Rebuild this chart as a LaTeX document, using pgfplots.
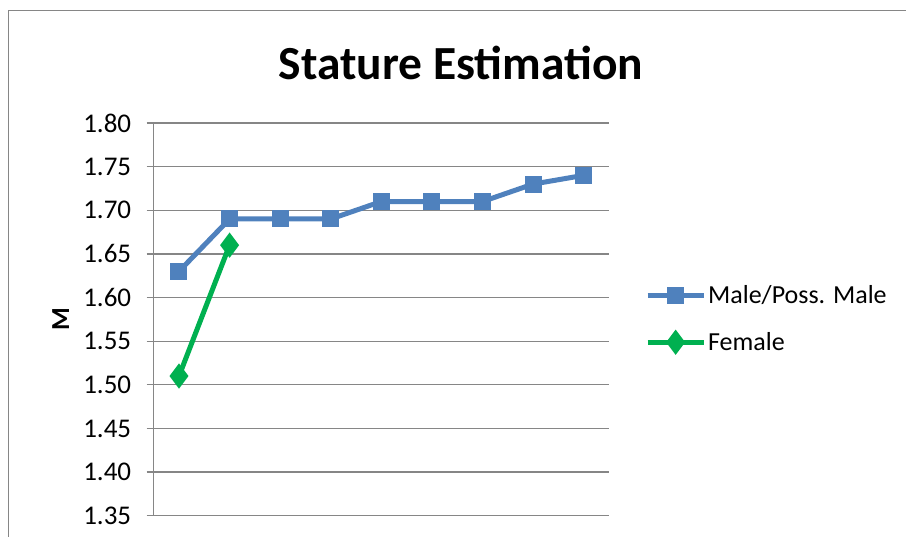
\documentclass[border=0pt]{standalone}
\usepackage{pgfplots}
\pgfplotsset{compat=1.18}
\usepackage{fontspec}
\setmainfont{Carlito}
\definecolor{mblue}{RGB}{79,129,189}
\definecolor{fgreen}{RGB}{0,176,80}
\definecolor{gridgray}{RGB}{134,134,134}
\begin{document}
\begin{tikzpicture}[x=1pt,y=1pt]
\useasboundingbox (0,0) rectangle (906,537);
\draw[gridgray,line width=1.2pt] (8.3,0) -- (8.3,526.5) -- (906,526.5);
\node[font=\fontsize{47.5}{52}\selectfont\bfseries] at (461,537-63) {Stature Estimation};
\begin{axis}[
  at={(153.7pt,21.3pt)}, anchor=south west,
  scale only axis, width=455.3pt, height=392.7pt,
  xmin=0, xmax=9, ymin=1.35, ymax=1.80,
  ytick={1.35,1.40,...,1.801},
  xtick=\empty,
  yticklabel style={font=\fontsize{27}{30}\selectfont, xshift=-12pt,
    /pgf/number format/fixed, /pgf/number format/fixed zerofill,
    /pgf/number format/precision=2, /pgf/number format/assume math mode=true},
  ymajorgrids, grid style={gridgray,line width=1.3pt},
  axis x line=bottom, axis y line=left,
  axis line style={-,gridgray,line width=1.3pt},
  tick align=outside, major tick length=7pt,
  tick style={gridgray,line width=1.3pt},
  ylabel={\bfseries M}, ylabel style={font=\fontsize{26}{30}\selectfont\bfseries, at={(-0.178,0.5)}},
  legend style={draw=none, fill=none, at={(1.079,0.501)}, anchor=west,
    font=\fontsize{26}{30}\selectfont, row sep=23pt, inner sep=0pt,
    /tikz/every even column/.append style={column sep=2pt}},
  legend cell align=left,
  legend image code/.code={\draw[mark repeat=2,mark phase=2] plot coordinates {(0pt,0pt) (28pt,0pt) (56pt,0pt)};},
  clip=false,
]
\addplot[mblue, line width=5pt, mark=square*, mark size=6pt, mark options={solid}] coordinates {
 (0.5,1.63) (1.5,1.69) (2.5,1.69) (3.5,1.69) (4.5,1.71) (5.5,1.71) (6.5,1.71) (7.5,1.73) (8.5,1.74)};
\addlegendentry{Male/Poss. Male}
\addplot[fgreen, line width=5pt, mark=diamond*, mark size=8.5pt, mark options={solid}] coordinates {
 (0.5,1.51) (1.5,1.66)};
\addlegendentry{Female}
\end{axis}
\end{tikzpicture}
\end{document}
